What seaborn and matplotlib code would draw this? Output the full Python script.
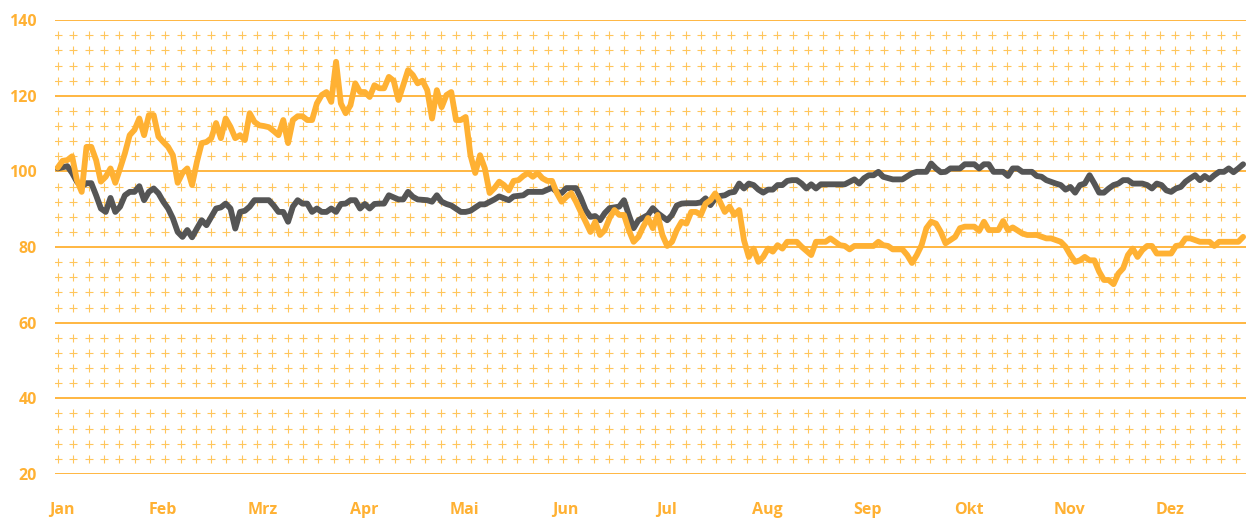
import numpy as np
import pandas as pd
import matplotlib.pyplot as plt
import seaborn as sns

# trading-day index and value
orange_day = [0, 1, 2, 3, 4, 5, 6, 7, 8, 9, 10, 11, 12, 13, 14, 15, 16, 17, 18, 19,
              20, 21, 22, 23, 24, 25, 26, 27, 28, 29, 30, 31, 32, 33, 34, 35, 36, 37, 38, 39,
              40, 41, 42, 43, 44, 45, 46, 47, 48, 49, 50, 51, 52, 53, 54, 55, 56, 57, 58, 59,
              60, 61, 62, 63, 64, 65, 66, 67, 68, 69, 70, 71, 72, 73, 74, 75, 76, 77, 78, 79,
              80, 81, 82, 83, 84, 85, 86, 87, 88, 89, 90, 91, 92, 93, 94, 95, 96, 97, 98, 99,
              100, 101, 102, 103, 104, 105, 106, 107, 108, 109, 110, 111, 112, 113, 114, 115, 116, 117, 118, 119,
              120, 121, 122, 123, 124, 125, 126, 127, 128, 129, 130, 131, 132, 133, 134, 135, 136, 137, 138, 139,
              140, 141, 142, 143, 144, 145, 146, 147, 148, 149, 150, 151, 152, 153, 154, 155, 157, 158, 159, 160,
              161, 162, 163, 164, 165, 166, 167, 169, 170, 171, 172, 173, 174, 175, 176, 177, 178, 179, 180, 181,
              182, 183, 184, 185, 187, 188, 189, 190, 191, 192, 193, 194, 196, 197, 198, 199, 201, 202, 203, 204,
              206, 207, 209, 210, 211, 212, 213, 214, 215, 216, 217, 218, 219, 220, 221, 222, 223, 224, 225, 226,
              227, 228, 229, 230, 232, 233, 234, 235, 236, 238, 239, 240, 241, 242, 244, 245, 246, 247]
orange_val = [101.0, 102.8, 103.0, 104.0, 97.7, 94.6, 106.5, 106.5, 103.0, 97.3, 98.6, 100.8, 97.0, 100.8, 104.8, 109.6, 111.0, 114.0, 109.6, 114.9,
              114.9, 109.2, 107.8, 106.5, 104.3, 97.0, 99.6, 100.8, 96.4, 102.5, 107.5, 107.8, 108.8, 112.8, 108.8, 114.0, 111.8, 108.8, 109.6, 108.3,
              115.4, 113.1, 112.2, 112.0, 111.7, 110.7, 109.6, 113.6, 107.5, 113.6, 114.6, 114.6, 113.6, 113.6, 118.0, 120.2, 121.0, 118.4, 129.0, 118.0,
              115.4, 117.5, 123.3, 121.0, 121.0, 119.7, 122.8, 122.0, 122.0, 125.0, 124.0, 118.9, 122.8, 126.8, 125.5, 123.3, 124.0, 121.5, 114.0, 121.5,
              117.0, 120.2, 121.0, 113.6, 113.6, 114.4, 104.3, 99.6, 104.3, 100.8, 94.3, 95.6, 97.3, 96.4, 95.0, 97.5, 97.7, 98.8, 99.6, 98.6,
              99.6, 98.2, 97.5, 97.5, 94.3, 92.0, 93.3, 94.3, 92.0, 89.3, 86.7, 84.0, 86.7, 83.2, 84.5, 87.7, 89.8, 88.5, 88.5, 84.5,
              81.4, 82.7, 85.4, 87.7, 85.0, 88.5, 83.2, 80.3, 81.4, 84.5, 86.7, 86.2, 89.3, 89.3, 88.5, 91.5, 92.4, 94.2, 92.0, 89.3,
              90.7, 88.5, 89.8, 81.8, 77.4, 79.6, 76.1, 77.4, 79.6, 78.8, 80.5, 79.6, 81.4, 81.4, 81.4, 80.1, 77.9, 81.4, 81.4, 81.4,
              82.3, 81.4, 80.5, 80.3, 79.4, 80.3, 80.3, 80.3, 80.3, 81.4, 80.5, 80.3, 79.4, 79.4, 79.4, 77.9, 75.8, 77.9, 80.5, 85.0,
              86.7, 86.2, 84.0, 81.0, 82.7, 85.0, 85.4, 85.4, 85.4, 84.3, 86.7, 84.5, 84.5, 86.9, 84.5, 85.2, 83.6, 83.2, 83.2, 83.2,
              82.3, 82.3, 81.4, 80.1, 77.9, 76.1, 76.5, 77.4, 76.5, 76.5, 73.5, 71.3, 71.3, 70.2, 73.0, 74.4, 77.9, 79.6, 77.4, 79.2,
              80.3, 80.3, 78.3, 78.3, 78.3, 80.3, 80.5, 82.3, 82.3, 81.4, 81.4, 81.4, 80.3, 81.4, 81.4, 81.4, 81.4, 82.7]

gray_day = [0, 2, 3, 4, 5, 6, 7, 8, 9, 10, 11, 12, 13, 14, 15, 16, 17, 18, 19, 20,
            21, 22, 23, 24, 25, 26, 27, 28, 29, 30, 31, 32, 33, 34, 35, 36, 37, 38, 39, 40,
            41, 42, 44, 45, 46, 47, 48, 49, 50, 51, 52, 53, 54, 55, 56, 57, 58, 59, 60, 61,
            62, 63, 64, 65, 66, 67, 68, 69, 71, 72, 73, 74, 75, 77, 78, 79, 80, 81, 82, 84,
            85, 86, 88, 89, 91, 92, 94, 95, 97, 98, 99, 101, 103, 104, 105, 106, 108, 109, 110, 111,
            112, 113, 114, 115, 117, 118, 119, 120, 121, 123, 124, 125, 127, 128, 129, 130, 131, 133, 134, 135,
            136, 137, 138, 139, 140, 141, 142, 143, 144, 145, 146, 147, 148, 149, 150, 151, 152, 153, 154, 155,
            156, 157, 158, 159, 160, 162, 163, 164, 166, 167, 168, 169, 170, 171, 172, 174, 175, 176, 178, 179,
            180, 181, 182, 183, 184, 185, 186, 188, 189, 191, 192, 193, 194, 195, 196, 197, 198, 199, 200, 201,
            203, 204, 205, 206, 208, 209, 210, 211, 212, 213, 214, 215, 216, 217, 218, 219, 220, 221, 222, 223,
            224, 226, 227, 228, 229, 230, 231, 232, 233, 234, 235, 236, 237, 238, 239, 240, 241, 242, 243, 244,
            245, 246, 247]
gray_val = [100.8, 101.4, 99.6, 97.3, 96.0, 96.9, 96.9, 93.7, 90.2, 89.3, 93.0, 89.3, 90.7, 93.7, 94.6, 94.6, 96.1, 92.4, 94.6, 95.5,
            94.2, 92.0, 90.2, 87.6, 84.0, 82.7, 84.5, 82.6, 84.9, 87.1, 85.8, 88.0, 90.2, 90.5, 91.5, 90.2, 84.9, 89.3, 89.6, 90.7,
            92.4, 92.4, 92.4, 91.0, 89.3, 89.3, 86.7, 90.7, 92.4, 91.5, 91.5, 89.3, 90.2, 89.3, 89.3, 90.2, 89.3, 91.4, 91.5, 92.4,
            92.4, 90.2, 91.4, 90.2, 91.4, 91.5, 91.5, 93.7, 92.6, 92.6, 94.6, 93.3, 92.6, 92.4, 92.0, 93.7, 92.0, 91.4, 91.0, 89.3,
            89.3, 89.6, 91.3, 91.3, 92.6, 93.4, 92.4, 93.4, 93.7, 94.6, 94.6, 94.6, 95.7, 94.6, 94.3, 95.6, 95.6, 93.0, 89.8, 88.0,
            88.2, 87.1, 89.0, 90.3, 90.7, 92.4, 88.5, 85.0, 87.1, 88.5, 90.3, 89.0, 87.1, 88.5, 91.0, 91.5, 91.6, 91.6, 91.8, 92.9,
            91.1, 92.9, 93.5, 93.7, 94.4, 94.6, 96.8, 95.5, 96.8, 96.4, 95.2, 94.4, 95.2, 95.2, 96.4, 96.4, 97.5, 97.7, 97.7, 96.8,
            95.5, 96.6, 95.5, 96.6, 96.6, 96.6, 96.6, 96.6, 97.9, 96.8, 98.2, 99.0, 99.0, 99.9, 98.6, 97.9, 97.9, 97.9, 99.5, 99.9,
            99.9, 99.9, 102.1, 100.8, 99.8, 99.9, 100.8, 100.8, 101.9, 101.9, 100.8, 101.9, 101.9, 99.9, 99.9, 99.9, 98.8, 100.8, 100.8, 99.9,
            99.9, 98.8, 98.6, 97.7, 96.8, 96.4, 95.2, 95.9, 94.4, 96.4, 96.8, 99.0, 96.8, 94.4, 94.4, 95.5, 96.4, 96.8, 97.7, 97.7,
            96.8, 96.8, 96.4, 95.5, 96.8, 96.4, 95.0, 94.6, 95.5, 95.9, 97.3, 98.2, 99.0, 97.7, 98.8, 97.9, 99.0, 99.9, 99.9, 100.8,
            99.8, 100.8, 101.9]

months = ['Jan', 'Feb', 'Mrz', 'Apr', 'Mai', 'Jun', 'Jul', 'Aug', 'Sep', 'Okt', 'Nov', 'Dez']
y_ticks = [20, 40, 60, 80, 100, 120, 140]

ORANGE = '#FFB133'
GRAY = '#555555'

sns.set_style('white')
plt.rcParams['font.family'] = ['Open Sans', 'DejaVu Sans']

fig = plt.figure(figsize=(12.46, 5.18), dpi=100)
ax = fig.add_axes([0.044, 0.085, 0.956, 0.876])

# background "+" pattern between the grid lines
cols = np.arange(78) * 0.012846 + 0.0028
rows = [v for v in range(24, 140, 4) if v % 20 != 0]
gx, gy = np.meshgrid(cols, [(r - 20) / 120 for r in rows])
ax.scatter(gx.ravel(), gy.ravel(), marker='+', s=30, linewidths=0.8,
           color='#FFC65C', transform=ax.transAxes, zorder=0)

for t in y_ticks:
    ax.axhline(t, color=ORANGE, lw=1.3, zorder=1)

df_o = pd.DataFrame({'day': orange_day, 'val': orange_val})
df_g = pd.DataFrame({'day': gray_day, 'val': gray_val})
sns.lineplot(data=df_g, x='day', y='val', color=GRAY, lw=4.2, ax=ax, zorder=3)
sns.lineplot(data=df_o, x='day', y='val', color=ORANGE, lw=4.2, ax=ax, zorder=4)

ax.set_xlim(-0.6, 247.6)
ax.set_ylim(20, 140)
ax.set_yticks(y_ticks)
ax.set_xticks([0.8 + 21 * k for k in range(12)])
ax.set_xticklabels(months)
ax.tick_params(axis='both', length=0, labelcolor=ORANGE, labelsize=11.5)
ax.tick_params(axis='y', pad=13)
ax.tick_params(axis='x', pad=20)
for lab in ax.get_xticklabels() + ax.get_yticklabels():
    lab.set_fontweight('bold')
ax.set_xlabel('')
ax.set_ylabel('')
for s in ax.spines.values():
    s.set_visible(False)
ax.grid(False)

fig.savefig('out.png', dpi=100)
